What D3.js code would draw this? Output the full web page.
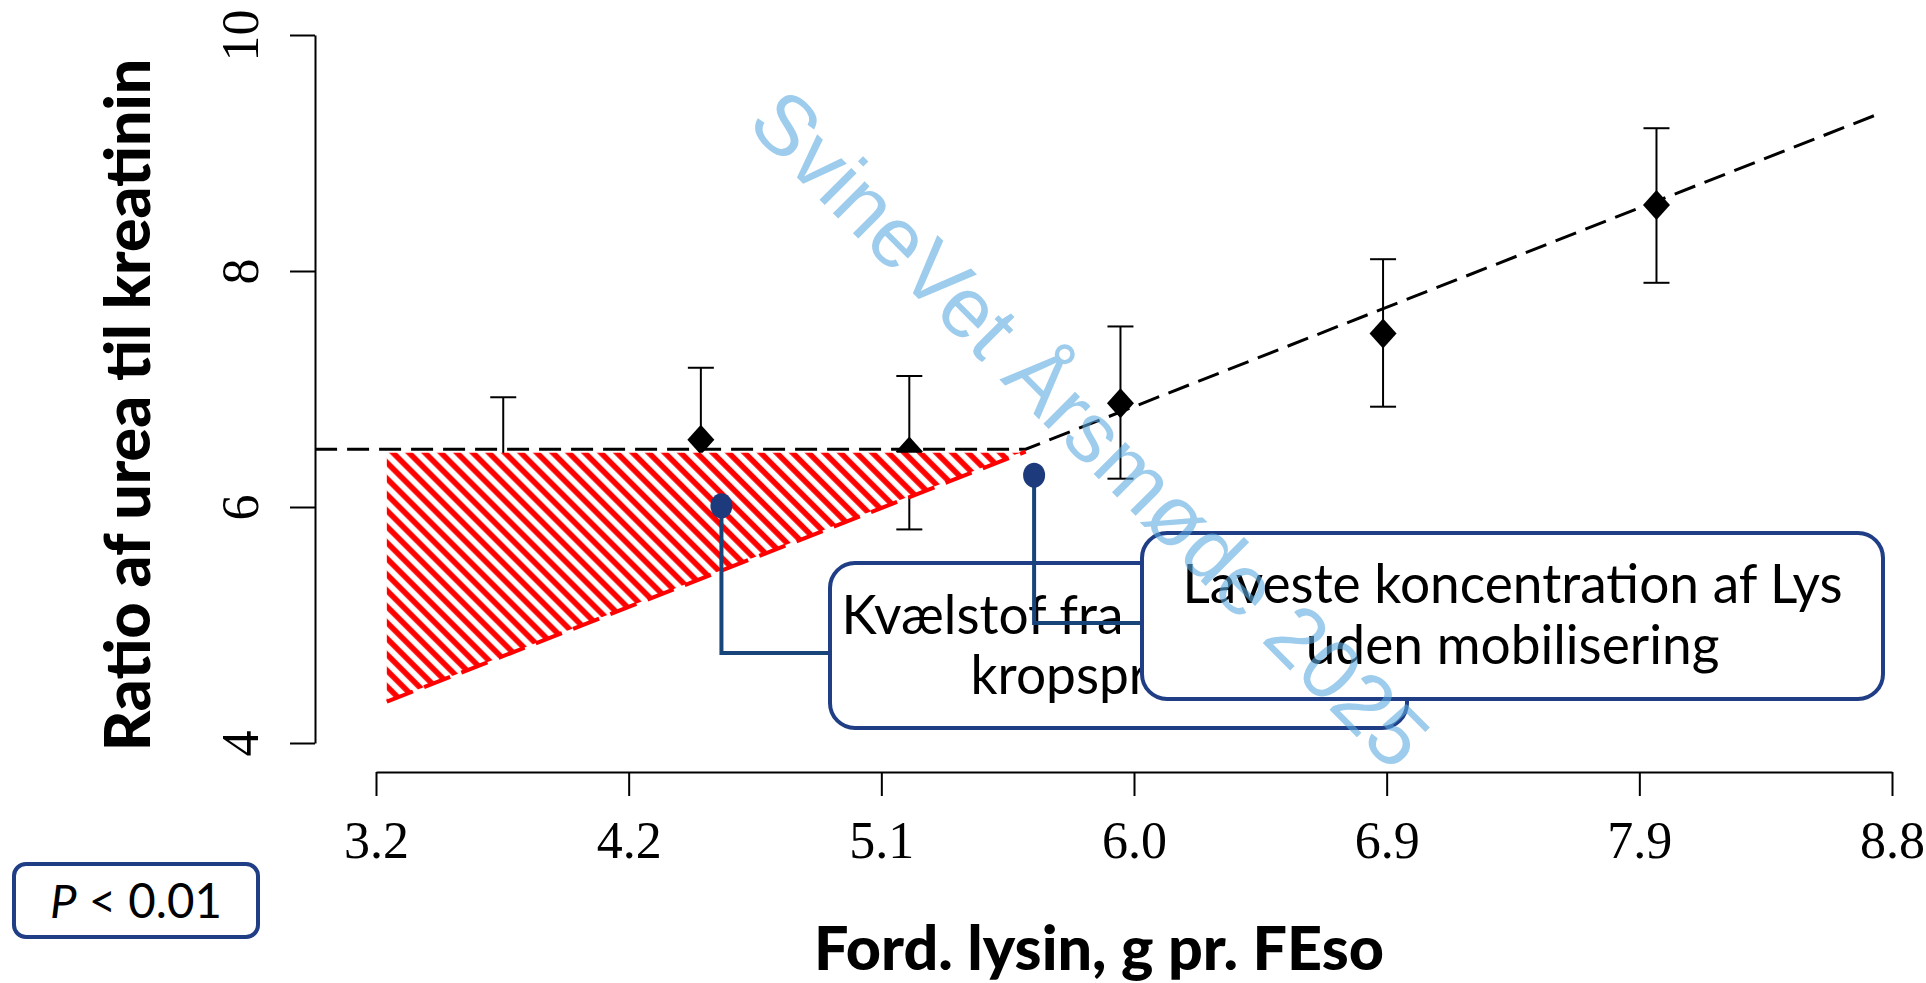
<!DOCTYPE html>
<html>
<head>
<meta charset="utf-8">
<script src="https://cdn.jsdelivr.net/npm/d3@7"></script>
<style>
  body { margin: 0; background: #fff; }
</style>
</head>
<body>
<div id="chart"></div>
<script>
// ---- data ----
const xTickLabels = ["3.2", "4.2", "5.1", "6.0", "6.9", "7.9", "8.8"];
const yTicks = [4, 6, 8, 10];

const lysine    = [3.67, 4.40, 5.17, 5.95, 6.92, 7.93];
const ratioMean = [6.33, 6.57, 6.47, 6.88, 7.47, 8.56];
const ratioLow  = [5.73, 5.96, 5.81, 6.24, 6.85, 7.90];
const ratioHigh = [6.93, 7.18, 7.11, 7.53, 8.10, 9.21];

// broken-line fit (plateau then linear)
const fitX = [2.975, 5.60, 8.76];
const fitY = [6.49, 6.49, 9.34];

// hatched triangle below the plateau
const hatchX = [3.24, 5.58, 3.24];
const hatchY = [6.46, 6.46, 4.35];
const redX = [3.24, 5.60];
const redY = [4.35, 6.47];

// annotation anchors
const dotX = [4.476, 5.631];
const dotY = [6.01, 6.27];
const boxLines = [
  ["Kvælstof fra mobiliseret", "kropsprotein"],
  ["Laveste koncentration af Lys", "uden mobilisering"]
];

const W = 1926, H = 983;
const navy = "#1f3e85";

const svg = d3.select("#chart").append("svg")
    .attr("width", W)
    .attr("height", H)
    .style("background", "#fff");

const x = d3.scaleLinear().domain([3.2, 8.8]).range([376, 1892]);
const y = d3.scaleLinear().domain([4, 10]).range([743, 35]);

// helper: scale font so text gets a given width
function fitWidth(sel, width) {
    const w = sel.node().getComputedTextLength();
    const fs = parseFloat(sel.attr("font-size"));
    sel.attr("font-size", fs * width / w);
    return fs * width / w;
}

// hatch pattern
const defs = svg.append("defs");
const pat = defs.append("pattern")
    .attr("id", "hatch")
    .attr("patternUnits", "userSpaceOnUse")
    .attr("width", 11.3)
    .attr("height", 11.3)
    .attr("patternTransform", "rotate(-45)");
pat.append("rect").attr("width", 11.3).attr("height", 11.3).attr("fill", "#fff");
pat.append("line")
    .attr("x1", 3).attr("y1", 0).attr("x2", 3).attr("y2", 11.3)
    .attr("stroke", "#ff0000").attr("stroke-width", 5.6);

// ---- error bars and diamonds ----
const pts = lysine.map((d, i) => ({ x: d, m: ratioMean[i], lo: ratioLow[i], hi: ratioHigh[i] }));
const bars = svg.append("g").attr("stroke", "#000").attr("stroke-width", 2);
pts.forEach(p => {
    bars.append("line").attr("x1", x(p.x)).attr("x2", x(p.x)).attr("y1", y(p.lo)).attr("y2", y(p.hi));
    bars.append("line").attr("x1", x(p.x) - 13).attr("x2", x(p.x) + 13).attr("y1", y(p.hi)).attr("y2", y(p.hi));
    bars.append("line").attr("x1", x(p.x) - 13).attr("x2", x(p.x) + 13).attr("y1", y(p.lo)).attr("y2", y(p.lo));
});
svg.append("g").selectAll("path")
    .data(pts)
    .enter()
    .append("path")
    .attr("d", "M0,-15L13.5,0L0,15L-13.5,0Z")
    .attr("transform", d => `translate(${x(d.x)},${y(d.m)})`)
    .attr("fill", "#000");

// ---- fitted broken line ----
const line = d3.line().x(d => x(d[0])).y(d => y(d[1]));
svg.append("path")
    .attr("d", line(d3.zip(fitX, fitY)))
    .attr("fill", "none")
    .attr("stroke", "#000")
    .attr("stroke-width", 3)
    .attr("stroke-dasharray", "22,10");

// ---- hatched area + red dashed edge ----
svg.append("path")
    .attr("d", line(d3.zip(hatchX, hatchY)) + "Z")
    .attr("fill", "url(#hatch)");
svg.append("path")
    .attr("d", line(d3.zip(redX, redY)))
    .attr("stroke", "#ff0000")
    .attr("stroke-width", 4)
    .attr("stroke-dasharray", "28,12")
    .attr("fill", "none");

// ---- axes ----
const xTickValues = xTickLabels.map((d, i) => 3.2 + i * (8.8 - 3.2) / (xTickLabels.length - 1));
const gx = svg.append("g")
    .attr("transform", "translate(0,772)")
    .call(d3.axisBottom(x).tickValues(xTickValues).tickFormat((d, i) => xTickLabels[i]).tickSize(24).tickSizeOuter(0));
gx.selectAll("path, line").attr("stroke", "#000").attr("stroke-width", 2);
gx.selectAll("text")
    .attr("y", 86).attr("dy", null)
    .attr("font-family", "'Liberation Serif', 'Times New Roman', serif")
    .attr("font-size", 52)
    .attr("fill", "#000");

const gy = svg.append("g")
    .attr("transform", "translate(315,0)")
    .call(d3.axisLeft(y).tickValues(yTicks).tickFormat(d3.format("d")).tickSize(25).tickSizeOuter(0));
gy.selectAll("path, line").attr("stroke", "#000").attr("stroke-width", 2);
gy.selectAll("text")
    .attr("x", 0).attr("dy", null)
    .attr("transform", "translate(-57,0) rotate(-90)")
    .attr("text-anchor", "middle")
    .attr("font-family", "'Liberation Serif', 'Times New Roman', serif")
    .attr("font-size", 52)
    .attr("fill", "#000");

// axis titles
const yTitle = svg.append("text")
    .attr("transform", "translate(150,405) rotate(-90)")
    .attr("text-anchor", "middle")
    .attr("font-family", "Lato, 'Noto Sans', sans-serif")
    .attr("font-weight", 900)
    .attr("font-size", 60)
    .text("Ratio af urea til kreatinin");
fitWidth(yTitle, 693);

const xTitle = svg.append("text")
    .attr("x", 1099).attr("y", 970)
    .attr("text-anchor", "middle")
    .attr("font-family", "Lato, 'Noto Sans', sans-serif")
    .attr("font-weight", 900)
    .attr("font-size", 60)
    .text("Ford. lysin, g pr. FEso");
fitWidth(xTitle, 570);

// ---- callouts ----
const boxes = [
    { x: 830, y: 563, w: 577, h: 165, base: [634, 694] },
    { x: 1142, y: 533, w: 741, h: 166, base: [603, 664] }
];
const leaderY = [653, 623];
const ann = svg.append("g");
const leaderPath = i => {
    const px = x(dotX[i]), py = y(dotY[i]);
    return `M${px},${py}V${leaderY[i]}H${boxes[i].x}`;
};

function drawBox(i, fs) {
    const b = boxes[i];
    ann.append("rect")
        .attr("x", b.x).attr("y", b.y).attr("width", b.w).attr("height", b.h)
        .attr("rx", 25)
        .attr("fill", "#fff")
        .attr("stroke", navy)
        .attr("stroke-width", 4);
    return boxLines[i].map((t, j) => ann.append("text")
        .attr("x", b.x + b.w / 2)
        .attr("y", b.base[j])
        .attr("text-anchor", "middle")
        .attr("font-family", "Lato, 'Noto Sans', sans-serif")
        .attr("font-size", fs)
        .attr("fill", "#000")
        .text(t));
}

ann.append("path").attr("d", leaderPath(0)).attr("fill", "none").attr("stroke", "#17457a").attr("stroke-width", 4);
const t1 = drawBox(0, 46);
ann.append("path").attr("d", leaderPath(1)).attr("fill", "none").attr("stroke", "#17457a").attr("stroke-width", 4);
const t2 = drawBox(1, 46);
const fs = fitWidth(t2[0], 660);
t2[1].attr("font-size", fs);
t1.forEach(t => t.attr("font-size", fs));

ann.selectAll("ellipse.dot")
    .data(dotX)
    .enter()
    .append("ellipse")
    .attr("class", "dot")
    .attr("cx", d => x(d))
    .attr("cy", (d, i) => y(dotY[i]))
    .attr("rx", 11)
    .attr("ry", 12.5)
    .attr("fill", "#1d3b7c");

// ---- watermark ----
svg.append("text")
    .attr("transform", "translate(1091,428) rotate(45)")
    .attr("text-anchor", "middle")
    .attr("dy", "0.36em")
    .attr("font-family", "'Liberation Sans', Arial, sans-serif")
    .attr("font-size", 85)
    .attr("fill", "#5baadf")
    .attr("fill-opacity", 0.6)
    .text("SvineVet Årsmøde 2025");

// ---- p-value box ----
svg.append("rect")
    .attr("x", 14).attr("y", 864).attr("width", 244).attr("height", 73)
    .attr("rx", 12)
    .attr("fill", "#fff")
    .attr("stroke", navy)
    .attr("stroke-width", 4);
const pText = svg.append("text")
    .attr("x", 136).attr("y", 918)
    .attr("text-anchor", "middle")
    .attr("font-family", "Lato, 'Noto Sans', sans-serif")
    .attr("font-size", 48)
    .attr("fill", "#000");
pText.append("tspan").attr("font-style", "italic").text("P");
pText.append("tspan").text(" < 0.01");
fitWidth(pText, 172);
</script>
</body>
</html>
